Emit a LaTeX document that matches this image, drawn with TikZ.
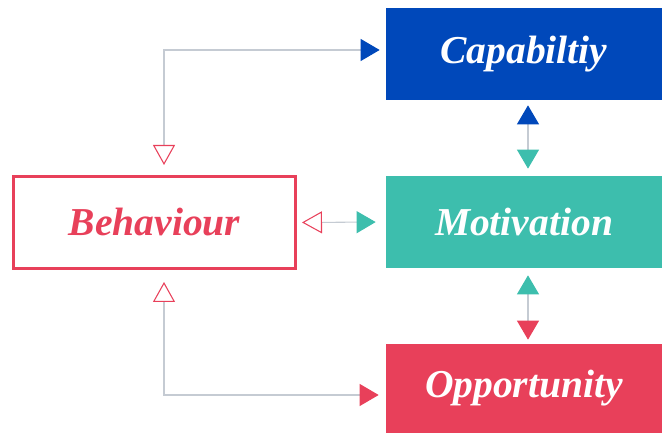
\documentclass[tikz,border=0pt]{standalone}
\usepackage{fontspec}
\setmainfont{Liberation Serif}
\usetikzlibrary{arrows.meta,calc}

\definecolor{capblue}{HTML}{0048BA}
\definecolor{motteal}{HTML}{3DBEAD}
\definecolor{oppred}{HTML}{E8405A}
\definecolor{linkgray}{HTML}{C5CBD3}

\tikzset{
    factor/.style={minimum width=5.52cm, minimum height=1.84cm, inner sep=0,
        text=white, font=\fontsize{22.5}{26}\selectfont\bfseries\itshape},
    link/.style={draw=linkgray, line width=0.6pt},
    hollowtip/.tip={Triangle[open, length=0.4cm, width=0.44cm, color=oppred, line width=0.6pt]},
    bluetip/.tip={Triangle[length=0.38cm, width=0.44cm, color=capblue]},
    tealtip/.tip={Triangle[length=0.38cm, width=0.44cm, color=motteal]},
    redtip/.tip={Triangle[length=0.38cm, width=0.44cm, color=oppred]},
}

\begin{document}
\begin{tikzpicture}
    \useasboundingbox (0,0) rectangle (13.24,8.66);

    % The three factors on the right
    \node[factor, fill=capblue] (cap) at (10.48,7.58) {Capabiltiy};
    \node[factor, fill=motteal] (mot) at (10.48,4.22) {Motivation};
    \node[factor, fill=oppred, minimum height=1.78cm] (opp) at (10.48,0.89) {Opportunity};

    % Behaviour box
    \node[draw=oppred, line width=0.06cm, minimum width=5.64cm, minimum height=1.84cm,
        inner sep=0, text=oppred, font=\fontsize{22.5}{26}\selectfont\bfseries\itshape]
        (beh) at (3.09,4.21) {Behaviour};

    % Corners of the elbow links
    \coordinate (top) at (3.28,7.66);
    \coordinate (bot) at (3.28,0.76);

    % Links from behaviour
    \draw[link, hollowtip-bluetip, shorten <=0.2cm, shorten >=0.12cm]
        (beh.north -| top) -- (top) -- (top -| cap.west);
    \draw[link, hollowtip-tealtip, shorten <=0.1cm, shorten >=0.2cm]
        (beh.east) -- (mot.west);
    \draw[link, hollowtip-redtip, shorten <=0.24cm, shorten >=0.14cm]
        (beh.south -| bot) -- (bot) -- (bot -| opp.west);

    % Links between the factors
    \draw[link, bluetip-tealtip, shorten <=0.1cm, shorten >=0.14cm]
        ([xshift=0.08cm]cap.south) -- ([xshift=0.08cm]mot.north);
    \draw[link, tealtip-redtip, shorten <=0.14cm, shorten >=0.08cm]
        ([xshift=0.08cm]mot.south) -- ([xshift=0.08cm]opp.north);
\end{tikzpicture}
\end{document}
